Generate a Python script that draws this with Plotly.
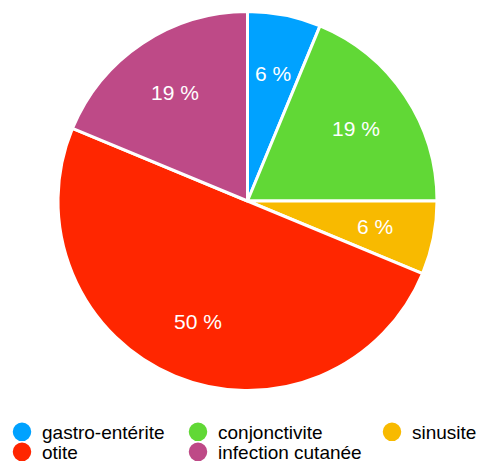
import math
import plotly.graph_objects as go

categories = ["gastro-entérite", "conjonctivite", "sinusite", "otite", "infection cutanée"]
values = [1, 3, 1, 8, 3]
colors = ["#00A2FF", "#61D836", "#F8BA00", "#FF2600", "#BE4A87"]
legend_cols = [0, 1, 2, 0, 1]   # column index of each legend entry
legend_rows = [0, 0, 0, 1, 1]   # row index of each legend entry

W, H = 482, 462
FONT = "Liberation Sans, Arial, sans-serif"

# pie geometry (pixels)
cx, cy, R = 247.5, 201.0, 189.5
dom_x = [(cx - R) / W, (cx + R) / W]
dom_y = [1 - (cy + R) / H, 1 - (cy - R) / H]

fig = go.Figure()
fig.add_trace(go.Pie(
    labels=categories, values=values, sort=False, direction="clockwise", rotation=0,
    marker=dict(colors=colors, line=dict(color="white", width=3)),
    textinfo="none", hoverinfo="label+percent", showlegend=False,
    domain=dict(x=dom_x, y=dom_y),
))

# percentage labels along each slice bisector
total = sum(values)
annotations = []
cum = 0
for v in values:
    theta = 2 * math.pi * (cum + v / 2) / total
    cum += v
    r = 0.686 * R
    px = cx + r * math.sin(theta)
    py = cy - r * math.cos(theta)
    annotations.append(dict(
        x=px / W, y=1 - py / H, xref="paper", yref="paper",
        text=f"{round(v / total * 100)} %", showarrow=False,
        font=dict(family=FONT, size=21, color="white"),
        xanchor="center", yanchor="middle",
    ))

# legend: one legend per entry, circle markers
col_pos = [(2 / W, "left"), (178 / W, "left"), (1.0, "right")]
row_y = [432, 452]
layout_legends = {}
for i, (name, col) in enumerate(zip(categories, colors)):
    key = "legend" if i == 0 else f"legend{i + 1}"
    fig.add_trace(go.Scatter(
        x=[None], y=[None], mode="markers", name=name, legend=key,
        marker=dict(symbol="circle", size=16, color=col, line=dict(color=col, width=2.5)),
        showlegend=True, hoverinfo="skip",
    ))
    lx, xa = col_pos[legend_cols[i]]
    layout_legends[key] = dict(
        x=lx, y=1 - row_y[legend_rows[i]] / H, xanchor=xa, yanchor="middle",
        orientation="v", bgcolor="rgba(0,0,0,0)", borderwidth=0,
        font=dict(family=FONT, size=19, color="#000000"),
    )

fig.update_layout(
    width=W, height=H, margin=dict(l=0, r=0, t=0, b=0, autoexpand=False),
    paper_bgcolor="white", plot_bgcolor="white",
    xaxis=dict(visible=False), yaxis=dict(visible=False),
    annotations=annotations,
    **layout_legends,
)

fig.write_html(
    "out.html",
    config={"displayModeBar": False},
    post_script="document.body.style.margin='0';document.body.style.overflow='hidden';",
)
